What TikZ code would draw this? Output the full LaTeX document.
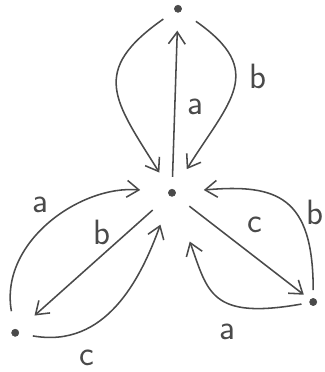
\documentclass[tikz,border=0pt]{standalone}
\usetikzlibrary{arrows.meta}
\definecolor{pencil}{HTML}{4A4A4A}
\begin{document}
\begin{tikzpicture}[
  vnode/.style={circle, fill=pencil, draw=pencil, inner sep=0pt, minimum size=1.8mm},
  edge/.style={line width=1.1pt, draw=pencil, -{Straight Barb[length=3mm,width=4.2mm]}},
  lbl/.style={text=pencil, font=\sffamily\fontsize{25}{25}\selectfont}
]
  \useasboundingbox (0,0) rectangle (8.125,9.3);

  % Vertices
  \node[vnode] (c) at (4.30, 4.48) {};
  \node[vnode] (t) at (4.45, 9.08) {};
  \node[vnode] (l) at (0.38, 0.98) {};
  \node[vnode] (r) at (7.83, 1.75) {};

  % Straight edges
  \draw[edge, shorten <=0.3cm, shorten >=0.45cm] (c) -- (t);
  \draw[edge, shorten <=0.55cm, shorten >=0.55cm] (c) -- (l);
  \draw[edge, shorten <=0.45cm, shorten >=0.2cm] (c) -- (r);

  % Loops back to the centre
  \draw[edge, shorten <=0.35cm, shorten >=0.5cm] (t) to[out=215, in=122, looseness=1.5] (c);
  \draw[edge, shorten <=0.45cm, shorten >=0.6cm] (t) to[out=-35, in=58, looseness=1.5] (c);
  \draw[edge, shorten <=0.45cm, shorten >=0.7cm] (l) to[out=100, in=175, looseness=1.1] (c);
  \draw[edge, shorten <=0.35cm, shorten >=0.75cm] (l) to[out=-10, in=250, looseness=1.1] (c);
  \draw[edge, shorten <=0.2cm, shorten >=0.7cm] (r) to[out=90, in=5, looseness=1.5] (c);
  \draw[edge, shorten <=0.2cm, shorten >=1.2cm] (r) to[out=190, in=290, looseness=1.5] (c);

  % Labels
  \node[lbl] (ta) at (4.88, 6.63) {a};
  \node[lbl] (tb) at (6.45, 7.38) {b};
  \node[lbl] (la) at (1.00, 4.18) {a};
  \node[lbl] (lb) at (2.55, 3.50) {b};
  \node[lbl] (lc) at (2.18, 0.36) {c};
  \node[lbl] (rc) at (6.38, 3.68) {c};
  \node[lbl] (rb) at (7.88, 4.00) {b};
  \node[lbl] (ra) at (5.68, 1.00) {a};

\end{tikzpicture}
\end{document}
